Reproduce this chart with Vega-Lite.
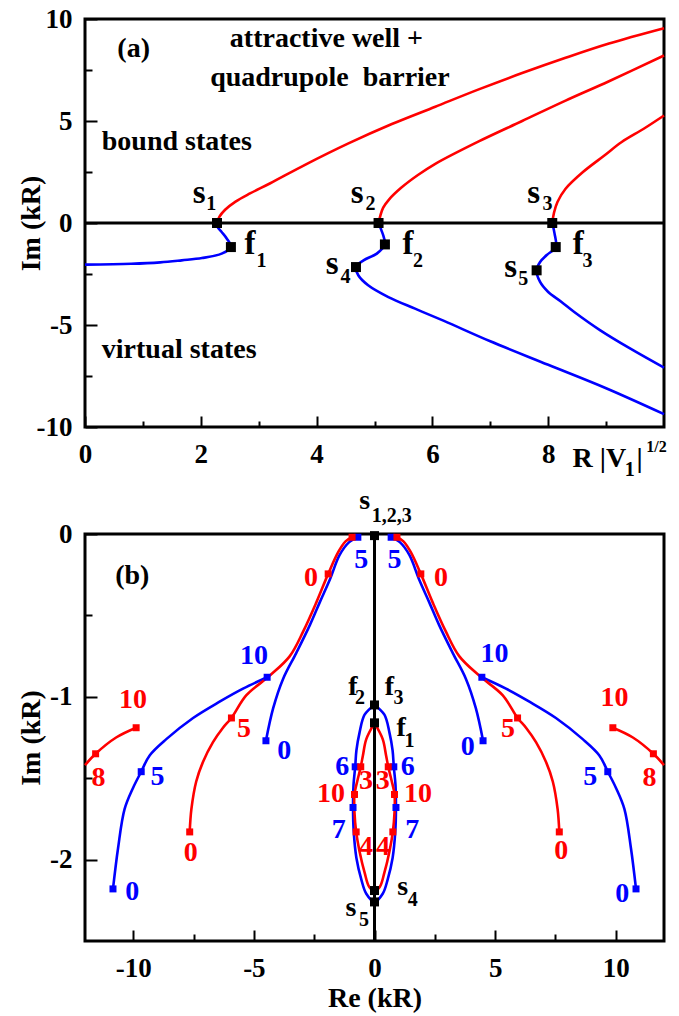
{
  "$schema": "https://vega.github.io/schema/vega-lite/v6.json",
  "background": "white",
  "padding": {"left": 15, "top": 3, "right": 0, "bottom": 0},
  "spacing": 3,
  "config": {
    "view": {"stroke": "black", "strokeWidth": 3},
    "font": "Liberation Serif",
    "axis": {
      "domain": false, "grid": false,
      "tickColor": "black", "tickWidth": 2,
      "labelFont": "Liberation Serif", "labelFontWeight": "bold", "labelFontSize": 27, "labelColor": "black",
      "titleFont": "Liberation Serif", "titleFontWeight": "bold", "titleFontSize": 28, "titleColor": "black",
      "labelFlush": false, "labelOverlap": false
    },
    "text": {"font": "Liberation Serif", "fontWeight": "bold", "baseline": "middle", "align": "center", "color": "black"}
  },
  "datasets": {
    "axisA": [{"i": 0, "x": 0, "y": 0}, {"i": 1, "x": 10, "y": 0}],
    "curvesA": [
      {"c": "r1", "kind": "A", "i": 0, "x": 2.28, "y": 0},
      {"c": "r1", "kind": "A", "i": 1, "x": 2.32, "y": 0.3},
      {"c": "r1", "kind": "A", "i": 2, "x": 2.42, "y": 0.65},
      {"c": "r1", "kind": "A", "i": 3, "x": 2.6, "y": 1.05},
      {"c": "r1", "kind": "A", "i": 4, "x": 2.85, "y": 1.45},
      {"c": "r1", "kind": "A", "i": 5, "x": 3.2, "y": 1.95},
      {"c": "r1", "kind": "A", "i": 6, "x": 3.8, "y": 2.85},
      {"c": "r1", "kind": "A", "i": 7, "x": 4.55, "y": 3.9},
      {"c": "r1", "kind": "A", "i": 8, "x": 5.3, "y": 4.85},
      {"c": "r1", "kind": "A", "i": 9, "x": 6.05, "y": 5.7},
      {"c": "r1", "kind": "A", "i": 10, "x": 6.8, "y": 6.55},
      {"c": "r1", "kind": "A", "i": 11, "x": 7.55, "y": 7.35},
      {"c": "r1", "kind": "A", "i": 12, "x": 8.3, "y": 8.1},
      {"c": "r1", "kind": "A", "i": 13, "x": 9.05, "y": 8.8},
      {"c": "r1", "kind": "A", "i": 14, "x": 10, "y": 9.55},
      {"c": "r2", "kind": "A", "i": 0, "x": 5.07, "y": 0},
      {"c": "r2", "kind": "A", "i": 1, "x": 5.1, "y": 0.35},
      {"c": "r2", "kind": "A", "i": 2, "x": 5.15, "y": 0.75},
      {"c": "r2", "kind": "A", "i": 3, "x": 5.25, "y": 1.15},
      {"c": "r2", "kind": "A", "i": 4, "x": 5.45, "y": 1.7},
      {"c": "r2", "kind": "A", "i": 5, "x": 5.75, "y": 2.35},
      {"c": "r2", "kind": "A", "i": 6, "x": 6.05, "y": 2.9},
      {"c": "r2", "kind": "A", "i": 7, "x": 6.8, "y": 4.0},
      {"c": "r2", "kind": "A", "i": 8, "x": 7.55, "y": 5.0},
      {"c": "r2", "kind": "A", "i": 9, "x": 8.3, "y": 6.0},
      {"c": "r2", "kind": "A", "i": 10, "x": 9.05, "y": 6.95},
      {"c": "r2", "kind": "A", "i": 11, "x": 10, "y": 8.21},
      {"c": "r3", "kind": "A", "i": 0, "x": 8.07, "y": 0},
      {"c": "r3", "kind": "A", "i": 1, "x": 8.1, "y": 0.5},
      {"c": "r3", "kind": "A", "i": 2, "x": 8.16, "y": 1.03},
      {"c": "r3", "kind": "A", "i": 3, "x": 8.3, "y": 1.68},
      {"c": "r3", "kind": "A", "i": 4, "x": 8.6, "y": 2.5},
      {"c": "r3", "kind": "A", "i": 5, "x": 8.97, "y": 3.31},
      {"c": "r3", "kind": "A", "i": 6, "x": 9.27, "y": 3.97},
      {"c": "r3", "kind": "A", "i": 7, "x": 9.65, "y": 4.62},
      {"c": "r3", "kind": "A", "i": 8, "x": 10, "y": 5.27},
      {"c": "b1", "kind": "B", "i": 0, "x": 0, "y": -2.04},
      {"c": "b1", "kind": "B", "i": 1, "x": 0.8, "y": -2.0},
      {"c": "b1", "kind": "B", "i": 2, "x": 1.3, "y": -1.93},
      {"c": "b1", "kind": "B", "i": 3, "x": 1.67, "y": -1.83},
      {"c": "b1", "kind": "B", "i": 4, "x": 2.02, "y": -1.72},
      {"c": "b1", "kind": "B", "i": 5, "x": 2.36, "y": -1.5},
      {"c": "b1", "kind": "B", "i": 6, "x": 2.52, "y": -1.18},
      {"c": "b1", "kind": "B", "i": 7, "x": 2.45, "y": -0.77},
      {"c": "b1", "kind": "B", "i": 8, "x": 2.36, "y": -0.44},
      {"c": "b1", "kind": "B", "i": 9, "x": 2.29, "y": -0.2},
      {"c": "b1", "kind": "B", "i": 10, "x": 2.28, "y": 0},
      {"c": "b2", "kind": "B", "i": 0, "x": 5.07, "y": 0},
      {"c": "b2", "kind": "B", "i": 1, "x": 5.12, "y": -0.36},
      {"c": "b2", "kind": "B", "i": 2, "x": 5.16, "y": -0.69},
      {"c": "b2", "kind": "B", "i": 3, "x": 5.18, "y": -1.05},
      {"c": "b2", "kind": "B", "i": 4, "x": 5.04, "y": -1.5},
      {"c": "b2", "kind": "B", "i": 5, "x": 4.81, "y": -1.83},
      {"c": "b2", "kind": "B", "i": 6, "x": 4.68, "y": -2.16},
      {"c": "b2", "kind": "B", "i": 7, "x": 4.72, "y": -2.56},
      {"c": "b2", "kind": "B", "i": 8, "x": 4.89, "y": -3.05},
      {"c": "b2", "kind": "B", "i": 9, "x": 5.24, "y": -3.63},
      {"c": "b2", "kind": "B", "i": 10, "x": 5.7, "y": -4.2},
      {"c": "b2", "kind": "B", "i": 11, "x": 6.2, "y": -4.8},
      {"c": "b2", "kind": "B", "i": 12, "x": 7.0, "y": -5.8},
      {"c": "b2", "kind": "B", "i": 13, "x": 8.0, "y": -6.95},
      {"c": "b2", "kind": "B", "i": 14, "x": 9.0, "y": -8.1},
      {"c": "b2", "kind": "B", "i": 15, "x": 10, "y": -9.37},
      {"c": "b3", "kind": "B", "i": 0, "x": 8.07, "y": 0},
      {"c": "b3", "kind": "B", "i": 1, "x": 8.11, "y": -0.52},
      {"c": "b3", "kind": "B", "i": 2, "x": 8.13, "y": -1.18},
      {"c": "b3", "kind": "B", "i": 3, "x": 7.97, "y": -1.58},
      {"c": "b3", "kind": "B", "i": 4, "x": 7.86, "y": -1.91},
      {"c": "b3", "kind": "B", "i": 5, "x": 7.8, "y": -2.32},
      {"c": "b3", "kind": "B", "i": 6, "x": 7.86, "y": -2.89},
      {"c": "b3", "kind": "B", "i": 7, "x": 8.0, "y": -3.38},
      {"c": "b3", "kind": "B", "i": 8, "x": 8.23, "y": -3.87},
      {"c": "b3", "kind": "B", "i": 9, "x": 8.45, "y": -4.36},
      {"c": "b3", "kind": "B", "i": 10, "x": 8.9, "y": -5.26},
      {"c": "b3", "kind": "B", "i": 11, "x": 9.42, "y": -6.16},
      {"c": "b3", "kind": "B", "i": 12, "x": 10, "y": -7.09}
    ],
    "nodesA": [
      {"x": 2.28, "y": 0}, {"x": 2.52, "y": -1.18},
      {"x": 5.07, "y": 0}, {"x": 5.18, "y": -1.05}, {"x": 4.68, "y": -2.16},
      {"x": 8.07, "y": 0}, {"x": 8.13, "y": -1.18}, {"x": 7.8, "y": -2.32}
    ],
    "labelsA": [
      {"text": "(a)", "role": "main", "x": 0.84, "y": 8.54},
      {"text": "attractive well +", "role": "main", "x": 4.17, "y": 9.04},
      {"text": "quadrupole\u00a0 barrier", "role": "main", "x": 4.23, "y": 7.11},
      {"text": "s", "role": "letter", "x": 1.97, "y": 1.49},
      {"text": "1", "role": "sub", "x": 2.18, "y": 0.95},
      {"text": "f", "role": "letter", "x": 2.85, "y": -1.03},
      {"text": "1", "role": "sub", "x": 3.05, "y": -1.85},
      {"text": "s", "role": "letter", "x": 4.7, "y": 1.49},
      {"text": "2", "role": "sub", "x": 4.93, "y": 0.95},
      {"text": "f", "role": "letter", "x": 5.58, "y": -1.03},
      {"text": "2", "role": "sub", "x": 5.75, "y": -1.85},
      {"text": "s", "role": "letter", "x": 4.27, "y": -1.99},
      {"text": "4", "role": "sub", "x": 4.5, "y": -2.65},
      {"text": "s", "role": "letter", "x": 7.75, "y": 1.49},
      {"text": "3", "role": "sub", "x": 7.99, "y": 0.95},
      {"text": "f", "role": "letter", "x": 8.52, "y": -1.03},
      {"text": "3", "role": "sub", "x": 8.68, "y": -1.85},
      {"text": "s", "role": "letter", "x": 7.35, "y": -2.16},
      {"text": "5", "role": "sub", "x": 7.57, "y": -2.73},
      {"text": "1", "role": "sub", "x": 9.41, "y": -12.11},
      {"text": "|", "role": "main", "x": 9.58, "y": -11.55},
      {"text": "1/2", "role": "sup", "x": 9.87, "y": -10.98}
    ],
    "notesA": [
      {"text": "bound states", "x": 0.29, "y": 3.97},
      {"text": "virtual states", "x": 0.29, "y": -6.23},
      {"text": "R |V", "x": 8.42, "y": -11.55}
    ],
    "axisB": [{"i": 0, "x": 0, "y": 0}, {"i": 1, "x": 0, "y": -2.5}],
    "curvesB": [
      {"c": "bo-r", "kind": "B", "i": 0, "x": 10.84, "y": -2.18},
      {"c": "bo-r", "kind": "B", "i": 1, "x": 10.63, "y": -1.93},
      {"c": "bo-r", "kind": "B", "i": 2, "x": 10.36, "y": -1.69},
      {"c": "bo-r", "kind": "B", "i": 3, "x": 10.01, "y": -1.56},
      {"c": "bo-r", "kind": "B", "i": 4, "x": 9.67, "y": -1.46},
      {"c": "bo-r", "kind": "B", "i": 5, "x": 9.32, "y": -1.36},
      {"c": "bo-r", "kind": "B", "i": 6, "x": 8.63, "y": -1.26},
      {"c": "bo-r", "kind": "B", "i": 7, "x": 7.52, "y": -1.13},
      {"c": "bo-r", "kind": "B", "i": 8, "x": 6.42, "y": -1.03},
      {"c": "bo-r", "kind": "B", "i": 9, "x": 5.45, "y": -0.95},
      {"c": "bo-r", "kind": "B", "i": 10, "x": 4.45, "y": -0.88},
      {"c": "bo-l", "kind": "B", "i": 0, "x": -10.84, "y": -2.18},
      {"c": "bo-l", "kind": "B", "i": 1, "x": -10.63, "y": -1.93},
      {"c": "bo-l", "kind": "B", "i": 2, "x": -10.36, "y": -1.69},
      {"c": "bo-l", "kind": "B", "i": 3, "x": -10.01, "y": -1.56},
      {"c": "bo-l", "kind": "B", "i": 4, "x": -9.67, "y": -1.46},
      {"c": "bo-l", "kind": "B", "i": 5, "x": -9.32, "y": -1.36},
      {"c": "bo-l", "kind": "B", "i": 6, "x": -8.63, "y": -1.26},
      {"c": "bo-l", "kind": "B", "i": 7, "x": -7.52, "y": -1.13},
      {"c": "bo-l", "kind": "B", "i": 8, "x": -6.42, "y": -1.03},
      {"c": "bo-l", "kind": "B", "i": 9, "x": -5.45, "y": -0.95},
      {"c": "bo-l", "kind": "B", "i": 10, "x": -4.45, "y": -0.88},
      {"c": "bi-r", "kind": "B", "i": 0, "x": 4.5, "y": -1.27},
      {"c": "bi-r", "kind": "B", "i": 1, "x": 4.2, "y": -1.07},
      {"c": "bi-r", "kind": "B", "i": 2, "x": 3.79, "y": -0.89},
      {"c": "bi-r", "kind": "B", "i": 3, "x": 3.24, "y": -0.73},
      {"c": "bi-r", "kind": "B", "i": 4, "x": 2.68, "y": -0.56},
      {"c": "bi-r", "kind": "B", "i": 5, "x": 2.27, "y": -0.42},
      {"c": "bi-r", "kind": "B", "i": 6, "x": 1.85, "y": -0.28},
      {"c": "bi-r", "kind": "B", "i": 7, "x": 1.45, "y": -0.13},
      {"c": "bi-r", "kind": "B", "i": 8, "x": 1.05, "y": -0.05},
      {"c": "bi-r", "kind": "B", "i": 9, "x": 0.69, "y": -0.02},
      {"c": "bi-l", "kind": "B", "i": 0, "x": -4.5, "y": -1.27},
      {"c": "bi-l", "kind": "B", "i": 1, "x": -4.2, "y": -1.07},
      {"c": "bi-l", "kind": "B", "i": 2, "x": -3.79, "y": -0.89},
      {"c": "bi-l", "kind": "B", "i": 3, "x": -3.24, "y": -0.73},
      {"c": "bi-l", "kind": "B", "i": 4, "x": -2.68, "y": -0.56},
      {"c": "bi-l", "kind": "B", "i": 5, "x": -2.27, "y": -0.42},
      {"c": "bi-l", "kind": "B", "i": 6, "x": -1.85, "y": -0.28},
      {"c": "bi-l", "kind": "B", "i": 7, "x": -1.45, "y": -0.13},
      {"c": "bi-l", "kind": "B", "i": 8, "x": -1.05, "y": -0.05},
      {"c": "bi-l", "kind": "B", "i": 9, "x": -0.69, "y": -0.02},
      {"c": "be", "kind": "B", "i": 0, "x": 0, "y": -1.05},
      {"c": "be", "kind": "B", "i": 1, "x": 0.41, "y": -1.11},
      {"c": "be", "kind": "B", "i": 2, "x": 0.62, "y": -1.22},
      {"c": "be", "kind": "B", "i": 3, "x": 0.75, "y": -1.33},
      {"c": "be", "kind": "B", "i": 4, "x": 0.8, "y": -1.43},
      {"c": "be", "kind": "B", "i": 5, "x": 0.87, "y": -1.54},
      {"c": "be", "kind": "B", "i": 6, "x": 0.89, "y": -1.68},
      {"c": "be", "kind": "B", "i": 7, "x": 0.86, "y": -1.83},
      {"c": "be", "kind": "B", "i": 8, "x": 0.75, "y": -1.99},
      {"c": "be", "kind": "B", "i": 9, "x": 0.55, "y": -2.12},
      {"c": "be", "kind": "B", "i": 10, "x": 0.34, "y": -2.21},
      {"c": "be", "kind": "B", "i": 11, "x": 0, "y": -2.26},
      {"c": "be", "kind": "B", "i": 12, "x": -0.34, "y": -2.21},
      {"c": "be", "kind": "B", "i": 13, "x": -0.55, "y": -2.12},
      {"c": "be", "kind": "B", "i": 14, "x": -0.75, "y": -1.99},
      {"c": "be", "kind": "B", "i": 15, "x": -0.86, "y": -1.83},
      {"c": "be", "kind": "B", "i": 16, "x": -0.89, "y": -1.68},
      {"c": "be", "kind": "B", "i": 17, "x": -0.87, "y": -1.54},
      {"c": "be", "kind": "B", "i": 18, "x": -0.8, "y": -1.43},
      {"c": "be", "kind": "B", "i": 19, "x": -0.75, "y": -1.33},
      {"c": "be", "kind": "B", "i": 20, "x": -0.62, "y": -1.22},
      {"c": "be", "kind": "B", "i": 21, "x": -0.41, "y": -1.11},
      {"c": "be", "kind": "B", "i": 22, "x": 0, "y": -1.05},
      {"c": "ro-r", "kind": "A", "i": 0, "x": 9.88, "y": -1.19},
      {"c": "ro-r", "kind": "A", "i": 1, "x": 10.71, "y": -1.25},
      {"c": "ro-r", "kind": "A", "i": 2, "x": 11.56, "y": -1.35},
      {"c": "ro-r", "kind": "A", "i": 3, "x": 12.0, "y": -1.42},
      {"c": "ro-l", "kind": "A", "i": 0, "x": -9.88, "y": -1.19},
      {"c": "ro-l", "kind": "A", "i": 1, "x": -10.71, "y": -1.25},
      {"c": "ro-l", "kind": "A", "i": 2, "x": -11.56, "y": -1.35},
      {"c": "ro-l", "kind": "A", "i": 3, "x": -12.0, "y": -1.42},
      {"c": "rm-r", "kind": "A", "i": 0, "x": 7.66, "y": -1.83},
      {"c": "rm-r", "kind": "A", "i": 1, "x": 7.59, "y": -1.69},
      {"c": "rm-r", "kind": "A", "i": 2, "x": 7.39, "y": -1.52},
      {"c": "rm-r", "kind": "A", "i": 3, "x": 7.11, "y": -1.4},
      {"c": "rm-r", "kind": "A", "i": 4, "x": 6.7, "y": -1.28},
      {"c": "rm-r", "kind": "A", "i": 5, "x": 6.28, "y": -1.19},
      {"c": "rm-r", "kind": "A", "i": 6, "x": 5.93, "y": -1.13},
      {"c": "rm-r", "kind": "A", "i": 7, "x": 5.31, "y": -0.99},
      {"c": "rm-r", "kind": "A", "i": 8, "x": 4.34, "y": -0.87},
      {"c": "rm-r", "kind": "A", "i": 9, "x": 3.51, "y": -0.75},
      {"c": "rm-r", "kind": "A", "i": 10, "x": 2.96, "y": -0.6},
      {"c": "rm-r", "kind": "A", "i": 11, "x": 2.41, "y": -0.42},
      {"c": "rm-r", "kind": "A", "i": 12, "x": 1.92, "y": -0.245},
      {"c": "rm-r", "kind": "A", "i": 13, "x": 1.5, "y": -0.11},
      {"c": "rm-r", "kind": "A", "i": 14, "x": 1.2, "y": -0.045},
      {"c": "rm-r", "kind": "A", "i": 15, "x": 0.93, "y": -0.02},
      {"c": "rm-l", "kind": "A", "i": 0, "x": -7.66, "y": -1.83},
      {"c": "rm-l", "kind": "A", "i": 1, "x": -7.59, "y": -1.69},
      {"c": "rm-l", "kind": "A", "i": 2, "x": -7.39, "y": -1.52},
      {"c": "rm-l", "kind": "A", "i": 3, "x": -7.11, "y": -1.4},
      {"c": "rm-l", "kind": "A", "i": 4, "x": -6.7, "y": -1.28},
      {"c": "rm-l", "kind": "A", "i": 5, "x": -6.28, "y": -1.19},
      {"c": "rm-l", "kind": "A", "i": 6, "x": -5.93, "y": -1.13},
      {"c": "rm-l", "kind": "A", "i": 7, "x": -5.31, "y": -0.99},
      {"c": "rm-l", "kind": "A", "i": 8, "x": -4.34, "y": -0.87},
      {"c": "rm-l", "kind": "A", "i": 9, "x": -3.51, "y": -0.75},
      {"c": "rm-l", "kind": "A", "i": 10, "x": -2.96, "y": -0.6},
      {"c": "rm-l", "kind": "A", "i": 11, "x": -2.41, "y": -0.42},
      {"c": "rm-l", "kind": "A", "i": 12, "x": -1.92, "y": -0.245},
      {"c": "rm-l", "kind": "A", "i": 13, "x": -1.5, "y": -0.11},
      {"c": "rm-l", "kind": "A", "i": 14, "x": -1.2, "y": -0.045},
      {"c": "rm-l", "kind": "A", "i": 15, "x": -0.93, "y": -0.02},
      {"c": "re", "kind": "A", "i": 0, "x": 0, "y": -1.16},
      {"c": "re", "kind": "A", "i": 1, "x": 0.34, "y": -1.26},
      {"c": "re", "kind": "A", "i": 2, "x": 0.48, "y": -1.36},
      {"c": "re", "kind": "A", "i": 3, "x": 0.57, "y": -1.43},
      {"c": "re", "kind": "A", "i": 4, "x": 0.7, "y": -1.51},
      {"c": "re", "kind": "A", "i": 5, "x": 0.83, "y": -1.6},
      {"c": "re", "kind": "A", "i": 6, "x": 0.83, "y": -1.71},
      {"c": "re", "kind": "A", "i": 7, "x": 0.76, "y": -1.83},
      {"c": "re", "kind": "A", "i": 8, "x": 0.62, "y": -1.95},
      {"c": "re", "kind": "A", "i": 9, "x": 0.41, "y": -2.08},
      {"c": "re", "kind": "A", "i": 10, "x": 0.21, "y": -2.17},
      {"c": "re", "kind": "A", "i": 11, "x": 0, "y": -2.19},
      {"c": "re", "kind": "A", "i": 12, "x": -0.21, "y": -2.17},
      {"c": "re", "kind": "A", "i": 13, "x": -0.41, "y": -2.08},
      {"c": "re", "kind": "A", "i": 14, "x": -0.62, "y": -1.95},
      {"c": "re", "kind": "A", "i": 15, "x": -0.76, "y": -1.83},
      {"c": "re", "kind": "A", "i": 16, "x": -0.83, "y": -1.71},
      {"c": "re", "kind": "A", "i": 17, "x": -0.83, "y": -1.6},
      {"c": "re", "kind": "A", "i": 18, "x": -0.7, "y": -1.51},
      {"c": "re", "kind": "A", "i": 19, "x": -0.57, "y": -1.43},
      {"c": "re", "kind": "A", "i": 20, "x": -0.48, "y": -1.36},
      {"c": "re", "kind": "A", "i": 21, "x": -0.34, "y": -1.26},
      {"c": "re", "kind": "A", "i": 22, "x": 0, "y": -1.16}
    ],
    "markersB": [
      {"kind": "B", "x": 10.84, "y": -2.18}, {"kind": "B", "x": -10.84, "y": -2.18},
      {"kind": "B", "x": 9.67, "y": -1.46}, {"kind": "B", "x": -9.67, "y": -1.46},
      {"kind": "B", "x": 4.45, "y": -0.88}, {"kind": "B", "x": -4.45, "y": -0.88},
      {"kind": "B", "x": 4.5, "y": -1.27}, {"kind": "B", "x": -4.5, "y": -1.27},
      {"kind": "B", "x": 0.69, "y": -0.02}, {"kind": "B", "x": -0.69, "y": -0.02},
      {"kind": "B", "x": 0.8, "y": -1.43}, {"kind": "B", "x": -0.8, "y": -1.43},
      {"kind": "B", "x": 0.89, "y": -1.68}, {"kind": "B", "x": -0.89, "y": -1.68},
      {"kind": "A", "x": 9.88, "y": -1.19}, {"kind": "A", "x": -9.88, "y": -1.19},
      {"kind": "A", "x": 11.56, "y": -1.35}, {"kind": "A", "x": -11.56, "y": -1.35},
      {"kind": "A", "x": 7.66, "y": -1.83}, {"kind": "A", "x": -7.66, "y": -1.83},
      {"kind": "A", "x": 5.93, "y": -1.13}, {"kind": "A", "x": -5.93, "y": -1.13},
      {"kind": "A", "x": 1.92, "y": -0.245}, {"kind": "A", "x": -1.92, "y": -0.245},
      {"kind": "A", "x": 0.93, "y": -0.02}, {"kind": "A", "x": -0.93, "y": -0.02},
      {"kind": "A", "x": 0.57, "y": -1.43}, {"kind": "A", "x": -0.57, "y": -1.43},
      {"kind": "A", "x": 0.83, "y": -1.6}, {"kind": "A", "x": -0.83, "y": -1.6},
      {"kind": "A", "x": 0.76, "y": -1.83}, {"kind": "A", "x": -0.76, "y": -1.83}
    ],
    "nodesB": [
      {"x": 0, "y": -0.01}, {"x": 0, "y": -1.05}, {"x": 0, "y": -1.16},
      {"x": 0, "y": -2.19}, {"x": 0, "y": -2.26}
    ],
    "labelsB": [
      {"text": "0", "kind": "B", "role": "main", "x": -10.04, "y": -2.2},
      {"text": "0", "kind": "B", "role": "main", "x": 10.27, "y": -2.21},
      {"text": "5", "kind": "B", "role": "main", "x": -9.0, "y": -1.49},
      {"text": "5", "kind": "B", "role": "main", "x": 8.94, "y": -1.49},
      {"text": "10", "kind": "B", "role": "main", "x": -4.99, "y": -0.75},
      {"text": "10", "kind": "B", "role": "main", "x": 4.97, "y": -0.74},
      {"text": "0", "kind": "B", "role": "main", "x": -3.74, "y": -1.33},
      {"text": "0", "kind": "B", "role": "main", "x": 3.87, "y": -1.31},
      {"text": "5", "kind": "B", "role": "main", "x": -0.55, "y": -0.16},
      {"text": "5", "kind": "B", "role": "main", "x": 0.83, "y": -0.16},
      {"text": "6", "kind": "B", "role": "main", "x": -1.34, "y": -1.43},
      {"text": "6", "kind": "B", "role": "main", "x": 1.38, "y": -1.43},
      {"text": "7", "kind": "B", "role": "main", "x": -1.48, "y": -1.82},
      {"text": "7", "kind": "B", "role": "main", "x": 1.56, "y": -1.82},
      {"text": "10", "kind": "A", "role": "main", "x": -10.01, "y": -1.02},
      {"text": "10", "kind": "A", "role": "main", "x": 9.95, "y": -1.01},
      {"text": "8", "kind": "A", "role": "main", "x": -11.44, "y": -1.5},
      {"text": "8", "kind": "A", "role": "main", "x": 11.4, "y": -1.5},
      {"text": "0", "kind": "A", "role": "main", "x": -7.62, "y": -1.96},
      {"text": "0", "kind": "A", "role": "main", "x": 7.74, "y": -1.95},
      {"text": "5", "kind": "A", "role": "main", "x": -5.41, "y": -1.2},
      {"text": "5", "kind": "A", "role": "main", "x": 5.53, "y": -1.2},
      {"text": "0", "kind": "A", "role": "main", "x": -2.63, "y": -0.27},
      {"text": "0", "kind": "A", "role": "main", "x": 2.76, "y": -0.27},
      {"text": "3", "kind": "A", "role": "main", "x": -0.35, "y": -1.52},
      {"text": "3", "kind": "A", "role": "main", "x": 0.34, "y": -1.52},
      {"text": "10", "kind": "A", "role": "main", "x": -1.8, "y": -1.6},
      {"text": "10", "kind": "A", "role": "main", "x": 1.8, "y": -1.6},
      {"text": "4", "kind": "A", "role": "main", "x": -0.35, "y": -1.92},
      {"text": "4", "kind": "A", "role": "main", "x": 0.35, "y": -1.92},
      {"text": "(b)", "kind": "node", "role": "main", "x": -10.04, "y": -0.26},
      {"text": "s", "kind": "node", "role": "main", "x": -0.41, "y": 0.2},
      {"text": "1,2,3", "kind": "node", "role": "sub", "x": 0.72, "y": 0.11},
      {"text": "f", "kind": "node", "role": "main", "x": -0.9, "y": -0.94},
      {"text": "2", "kind": "node", "role": "sub", "x": -0.6, "y": -1.01},
      {"text": "f", "kind": "node", "role": "main", "x": 0.62, "y": -0.94},
      {"text": "3", "kind": "node", "role": "sub", "x": 0.99, "y": -1.01},
      {"text": "f", "kind": "node", "role": "main", "x": 1.1, "y": -1.19},
      {"text": "1", "kind": "node", "role": "sub", "x": 1.45, "y": -1.27},
      {"text": "s", "kind": "node", "role": "main", "x": 1.17, "y": -2.17},
      {"text": "4", "kind": "node", "role": "sub", "x": 1.59, "y": -2.25},
      {"text": "s", "kind": "node", "role": "main", "x": -0.98, "y": -2.3},
      {"text": "5", "kind": "node", "role": "sub", "x": -0.44, "y": -2.37}
    ]
  },
  "vconcat": [
    {
      "width": 579,
      "height": 408,
      "encoding": {
        "x": {
          "field": "x", "type": "quantitative",
          "scale": {"domain": [0, 10], "nice": false, "zero": false},
          "axis": {
            "values": [0, 1, 2, 3, 4, 5, 6, 7, 8, 9],
            "labelExpr": "datum.value % 2 === 0 ? '' + datum.value : ''",
            "tickSize": {"condition": {"test": "datum.value % 2 === 0", "value": -11}, "value": -6},
            "labelPadding": 25,
            "title": null
          }
        },
        "y": {
          "field": "y", "type": "quantitative",
          "scale": {"domain": [-10, 10], "nice": false, "zero": false},
          "axis": {
            "values": [-10, -7.5, -5, -2.5, 0, 2.5, 5, 7.5, 10],
            "labelExpr": "datum.value % 5 === 0 ? '' + datum.value : ''",
            "tickSize": {"condition": {"test": "datum.value % 5 === 0", "value": -12}, "value": -7},
            "labelPadding": 25,
            "title": "Im (kR)",
            "titleX": -54, "titleY": 204, "titleAngle": 270,
            "titleAlign": "center", "titleBaseline": "middle"
          }
        }
      },
      "layer": [
        {
          "data": {"name": "axisA"},
          "mark": {"type": "line", "color": "black", "strokeWidth": 3},
          "encoding": {"order": {"field": "i", "type": "quantitative"}}
        },
        {
          "data": {"name": "curvesA"},
          "mark": {"type": "line", "strokeWidth": 2.6, "interpolate": "catmull-rom"},
          "encoding": {
            "detail": {"field": "c"},
            "order": {"field": "i", "type": "quantitative"},
            "color": {"field": "kind", "type": "nominal", "scale": {"domain": ["A", "B", "node"], "range": ["#ff0000", "#0000ff", "#000000"]}, "legend": null}
          }
        },
        {
          "data": {"name": "nodesA"},
          "mark": {"type": "point", "shape": "square", "filled": true, "size": 100, "color": "black", "opacity": 1}
        },
        {
          "data": {"name": "labelsA"},
          "mark": {"type": "text", "color": "black"},
          "encoding": {
            "text": {"field": "text"},
            "size": {"field": "role", "type": "nominal", "scale": {"type": "ordinal", "domain": ["main", "letter", "sub", "sup"], "range": [28, 33, 20, 16]}, "legend": null}
          }
        },
        {
          "data": {"name": "notesA"},
          "mark": {"type": "text", "align": "left", "fontSize": 28, "color": "black"},
          "encoding": {"text": {"field": "text"}}
        }
      ]
    },
    {
      "width": 579,
      "height": 407,
      "encoding": {
        "x": {
          "field": "x", "type": "quantitative",
          "scale": {"domain": [-12, 12], "nice": false, "zero": false},
          "axis": {
            "values": [-10, -7.5, -5, -2.5, 0, 2.5, 5, 7.5, 10],
            "labelExpr": "datum.value % 5 === 0 ? '' + datum.value : ''",
            "tickSize": {"condition": {"test": "datum.value % 5 === 0", "value": -11}, "value": -7},
            "labelPadding": 25,
            "title": "Re (kR)",
            "titleX": 289.5, "titleY": 57, "titleAngle": 0,
            "titleAlign": "center", "titleBaseline": "middle"
          }
        },
        "y": {
          "field": "y", "type": "quantitative",
          "scale": {"domain": [-2.5, 0], "nice": false, "zero": false},
          "axis": {
            "values": [0, -0.5, -1, -1.5, -2],
            "labelExpr": "datum.value % 1 === 0 ? '' + datum.value : ''",
            "tickSize": {"condition": {"test": "datum.value % 1 === 0", "value": -12}, "value": -7},
            "labelPadding": 25,
            "title": "Im (kR)",
            "titleX": -54, "titleY": 203.5, "titleAngle": 270,
            "titleAlign": "center", "titleBaseline": "middle"
          }
        }
      },
      "layer": [
        {
          "data": {"name": "axisB"},
          "mark": {"type": "line", "color": "black", "strokeWidth": 3},
          "encoding": {"order": {"field": "i", "type": "quantitative"}}
        },
        {
          "data": {"name": "curvesB"},
          "transform": [{"filter": "datum.kind === 'B'"}],
          "mark": {"type": "line", "strokeWidth": 2.6, "interpolate": "catmull-rom"},
          "encoding": {
            "detail": {"field": "c"},
            "order": {"field": "i", "type": "quantitative"},
            "color": {"field": "kind", "type": "nominal", "scale": {"domain": ["A", "B", "node"], "range": ["#ff0000", "#0000ff", "#000000"]}, "legend": null}
          }
        },
        {
          "data": {"name": "curvesB"},
          "transform": [{"filter": "datum.kind === 'A'"}],
          "mark": {"type": "line", "strokeWidth": 2.6, "interpolate": "catmull-rom"},
          "encoding": {
            "detail": {"field": "c"},
            "order": {"field": "i", "type": "quantitative"},
            "color": {"field": "kind", "type": "nominal", "scale": {"domain": ["A", "B", "node"], "range": ["#ff0000", "#0000ff", "#000000"]}, "legend": null}
          }
        },
        {
          "data": {"name": "markersB"},
          "mark": {"type": "point", "shape": "square", "filled": true, "size": 49, "opacity": 1},
          "encoding": {
            "color": {"field": "kind", "type": "nominal", "scale": {"domain": ["A", "B", "node"], "range": ["#ff0000", "#0000ff", "#000000"]}, "legend": null}
          }
        },
        {
          "data": {"name": "nodesB"},
          "mark": {"type": "point", "shape": "square", "filled": true, "size": 81, "color": "black", "opacity": 1}
        },
        {
          "data": {"name": "labelsB"},
          "mark": {"type": "text"},
          "encoding": {
            "text": {"field": "text"},
            "color": {"field": "kind", "type": "nominal", "scale": {"domain": ["A", "B", "node"], "range": ["#ff0000", "#0000ff", "#000000"]}, "legend": null},
            "size": {"field": "role", "type": "nominal", "scale": {"type": "ordinal", "domain": ["main", "letter", "sub", "sup"], "range": [28, 33, 20, 16]}, "legend": null}
          }
        }
      ]
    }
  ]
}
